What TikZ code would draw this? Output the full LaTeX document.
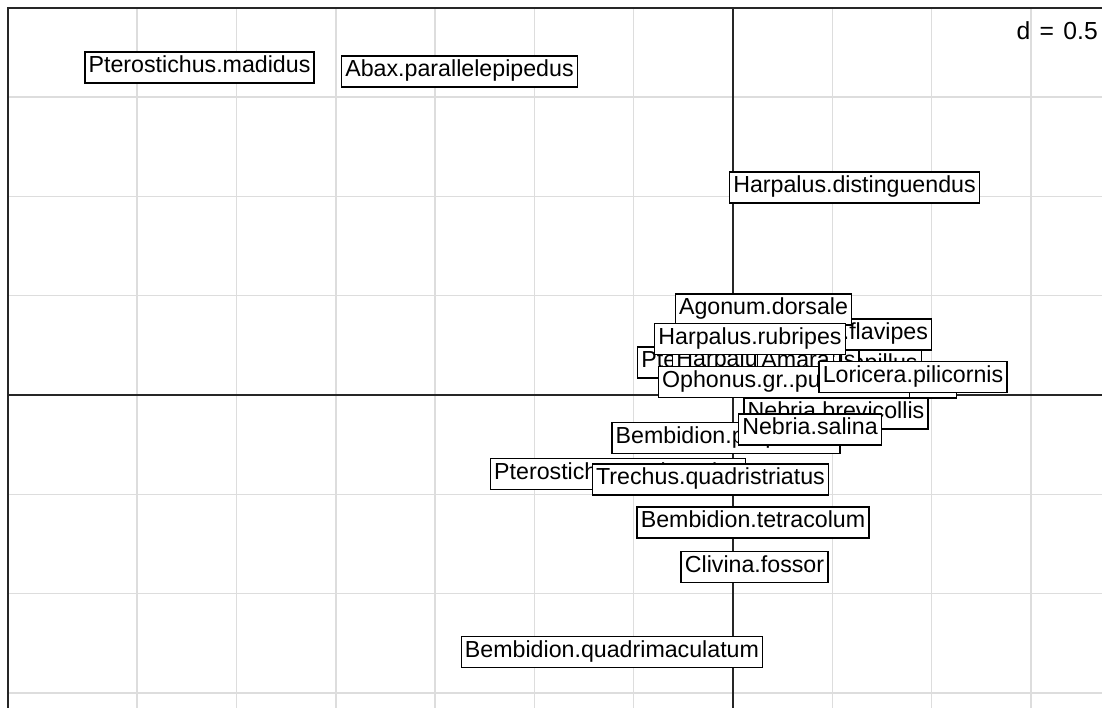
\documentclass[tikz,border=0pt]{standalone}
\usepackage{fontspec}
\setmainfont{Liberation Sans}
\begin{document}
\begin{tikzpicture}[x=0.75pt,y=-0.75pt,
  gridline/.style={draw={rgb,255:red,221;green,221;blue,221},line width=1.1pt},
  axisline/.style={draw=black!85,line width=1.3pt},
  lab/.style={draw=black,fill=white,line width=1.1pt,inner xsep=0.278em,inner ysep=0pt,
    minimum height=23.25pt,text height=0.76em,text depth=0pt,
    font=\fontsize{17.4}{20}\selectfont}]
\useasboundingbox (0,0) rectangle (1102,707);
\clip (0,0) rectangle (1102,707);
\fill[white] (0,0) rectangle (1102,707);
% grid, spacing d = 0.5
\foreach \gx in {137.2,236.5,335.8,435.1,534.4,633.7,832.3,931.6,1030.9}
  \draw[gridline] (\gx,8) -- (\gx,720);
\foreach \gy in {97.1,196.4,295.7,494.3,593.6,692.9}
  \draw[gridline] (8,\gy) -- (1120,\gy);
% axes through the origin
\draw[axisline] (8,395) -- (1120,395);
\draw[axisline] (733,8) -- (733,720);
% frame
\draw[black!85,line width=1.5pt] (8,720) -- (8,8) -- (1120,8);
\node[anchor=base east,inner sep=0pt,font=\fontsize{18.5}{20}\selectfont] (dlab) at (1098,39)
  {d\hspace{7pt}=\hspace{7pt}0.5};
% species labels, in drawing order
\node[lab] (pmad) at (199.5,67.5) {Pterostichus.madidus};
\node[lab] (apar) at (459.5,71.5) {Abax.parallelepipedus};
\node[lab] (hdis) at (854.5,187.5) {Harpalus.distinguendus};
\node[lab] (bqua) at (612,652) {Bembidion.quadrimaculatum};
\node[lab] (cfos) at (754.5,567) {Clivina.fossor};
\node[lab] (btet) at (753,522.5) {Bembidion.tetracolum};
\node[lab] (pmel) at (618,474) {Pterostichus.melanarius};
\node[lab] (tqua) at (710.5,479.5) {Trechus.quadristriatus};
\node[lab] (bpro) at (726,438) {Bembidion.properans};
\node[lab] (nbre) at (836,413.5) {Nebria.brevicollis};
\node[lab] (nsal) at (810,429.5) {Nebria.salina};
\node[lab,anchor=east] (datr) at (922,365) {Demetrias.atricapillus};
\node[lab,anchor=west] (pver) at (637,362.5) {Pterostichus.vernalis};
\node[lab,anchor=west] (haff) at (672,361) {Harpalus.affinis};
\node[lab,anchor=west] (amar) at (757,362) {Amara};
\node[lab,anchor=east] (cfus) at (957,382.5) {Calathus.fuscipes};
\node[lab] (afla) at (828,334.5) {Asaphidion.flavipes};
\node[lab] (ador) at (763.5,309.5) {Agonum.dorsale};
\node[lab] (hrub) at (750,339) {Harpalus.rubripes};
\node[lab] (opun) at (784,382) {Ophonus.gr..puncticeps};
\node[lab] (lpil) at (913,377) {Loricera.pilicornis};
\end{tikzpicture}
\end{document}
